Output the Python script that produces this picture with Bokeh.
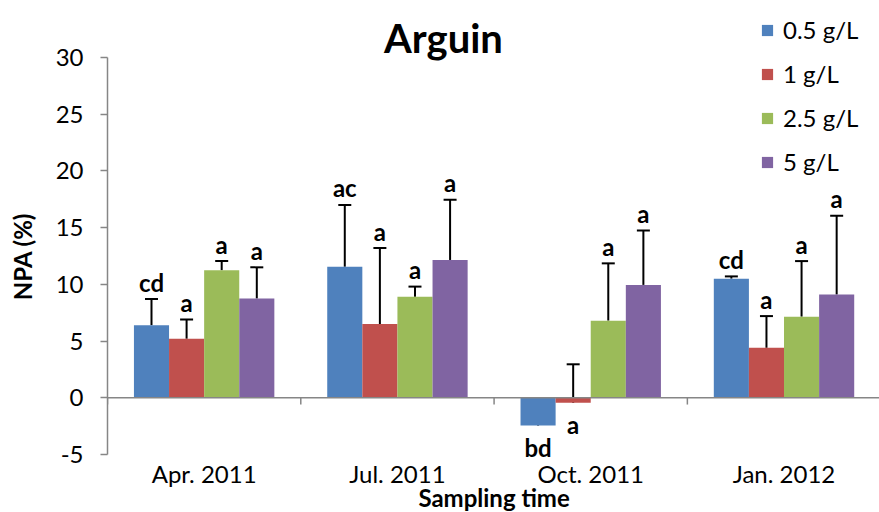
from bokeh.plotting import figure
from bokeh.models import (Range1d, FixedTicker, Whisker, TeeHead, ColumnDataSource,
                          Legend, LegendItem, Label, Span)
from bokeh.core.properties import value
from bokeh.embed import file_html
from bokeh.resources import INLINE

# ---------------- data ----------------
categories = ["Apr. 2011", "Jul. 2011", "Oct. 2011", "Jan. 2012"]
series_names = ["0.5 g/L", "1 g/L", "2.5 g/L", "5 g/L"]
npa_05 = [6.4, 11.55, -2.45, 10.5]
npa_1 = [5.2, 6.5, -0.45, 4.4]
npa_25 = [11.25, 8.9, 6.8, 7.15]
npa_5 = [8.75, 12.15, 9.95, 9.1]
err_05 = [2.3, 5.45, 0.75, 0.2]
err_1 = [1.7, 6.7, 3.4, 2.8]
err_25 = [0.8, 0.9, 5.05, 4.9]
err_5 = [2.75, 5.3, 4.8, 6.95]
lab_05 = ["cd", "ac", "bd", "cd"]
lab_1 = ["a", "a", "a", "a"]
lab_25 = ["a", "a", "a", "a"]
lab_5 = ["a", "a", "a", "a"]
y_ticks = [-5, 0, 5, 10, 15, 20, 25, 30]
title_text = "Arguin"
x_title = "Sampling time"
y_title = "NPA (%)"

colors = ["#4F81BD", "#C0504D", "#9BBB59", "#8064A2"]
FONT = "Lato"
FS = "24px"

values = [npa_05, npa_1, npa_25, npa_5]
errors = [err_05, err_1, err_25, err_5]
labels = [lab_05, lab_1, lab_25, lab_5]
n = len(categories)
y_min, y_max = min(y_ticks), max(y_ticks)

p = figure(width=879, height=512, output_backend="svg", toolbar_location=None,
           x_range=Range1d(0, 3.994), y_range=Range1d(-10.12, 35.03),
           min_border_left=107, min_border_right=0, min_border_top=0,
           min_border_bottom=0)
p.outline_line_color = None
p.xgrid.visible = False
p.ygrid.visible = False
p.xaxis.visible = False

bw = 0.1816
legend_items = []
for k in range(4):
    xs = [i + 0.5 + (k - 1.5) * bw for i in range(n)]
    vals = values[k]
    ups = [v + e for v, e in zip(vals, errors[k])]
    lab_y = [v if v < 0 else u for v, u in zip(vals, ups)]
    lab_off = [22 if v < 0 else -17 for v in vals]
    src = ColumnDataSource(dict(x=xs, top=vals, up=ups, ly=lab_y, lo=lab_off, lab=labels[k]))
    r = p.vbar(x="x", top="top", bottom=0, width=bw, source=src,
               fill_color=colors[k], line_color=None)
    legend_items.append(LegendItem(label=series_names[k], renderers=[r]))
    w = Whisker(base="x", lower="top", upper="up", source=src, dimension="height",
                line_color="black", line_width=2,
                upper_head=TeeHead(size=13, line_color="black", line_width=2),
                lower_head=None)
    p.add_layout(w)
    p.text(x="x", y="ly", text="lab", y_offset="lo", source=src,
           text_font=value(FONT), text_font_style="bold", text_font_size=FS,
           text_align="center", text_baseline="alphabetic", text_color="black")

# zero line (category axis) and its ticks
p.add_layout(Span(location=0, dimension="width", line_color="#868686", line_width=1.5))
bx = list(range(n + 1))
p.segment(x0=bx, y0=[0] * len(bx), x1=bx, y1=[-0.6] * len(bx),
          line_color="#868686", line_width=1.5)

# category labels and x title (drawn below the value axis minimum)
cx = [i + 0.5 for i in range(n)]
p.text(x=cx, y=[y_min] * n, text=categories, y_offset=19,
       text_font=value(FONT), text_font_size=FS, text_align="center",
       text_baseline="alphabetic", text_color="black")
p.text(x=[n / 2], y=[y_min], text=[x_title], y_offset=43,
       text_font=value(FONT), text_font_style="bold", text_font_size=FS,
       text_align="center", text_baseline="alphabetic", text_color="black")

# y axis
ya = p.yaxis[0]
ya.ticker = FixedTicker(ticks=y_ticks)
ya.major_label_overrides = {t: str(t) for t in y_ticks}
ya.bounds = (y_min, y_max)
ya.axis_line_color = "#868686"
ya.axis_line_width = 1.5
ya.major_tick_line_color = "#868686"
ya.major_tick_line_width = 1.5
ya.major_tick_out = 7
ya.major_tick_in = 0
ya.minor_tick_line_color = None
ya.major_label_text_font = FONT
ya.major_label_text_font_size = FS
ya.major_label_text_color = "black"
ya.major_label_standoff = 17
ya.axis_label = y_title
ya.axis_label_text_font = FONT
ya.axis_label_text_font_style = "bold"
ya.axis_label_text_font_size = FS
ya.axis_label_text_color = "black"
ya.axis_label_standoff = 16

# title
p.add_layout(Label(x=336, y=475, x_units="screen", y_units="screen", text=title_text,
                   text_font=FONT, text_font_style="bold", text_font_size="40px",
                   text_align="center", text_baseline="alphabetic", text_color="black"))

legend = Legend(items=legend_items, location=(653, 336), orientation="vertical",
                glyph_width=14, glyph_height=14, label_height=24, spacing=15,
                padding=0, margin=0, label_standoff=9,
                label_text_font=FONT, label_text_font_size=FS,
                label_text_color="black",
                border_line_color=None, background_fill_alpha=0)
p.add_layout(legend, "center")

open("out.html", "w").write(file_html(p, INLINE))
